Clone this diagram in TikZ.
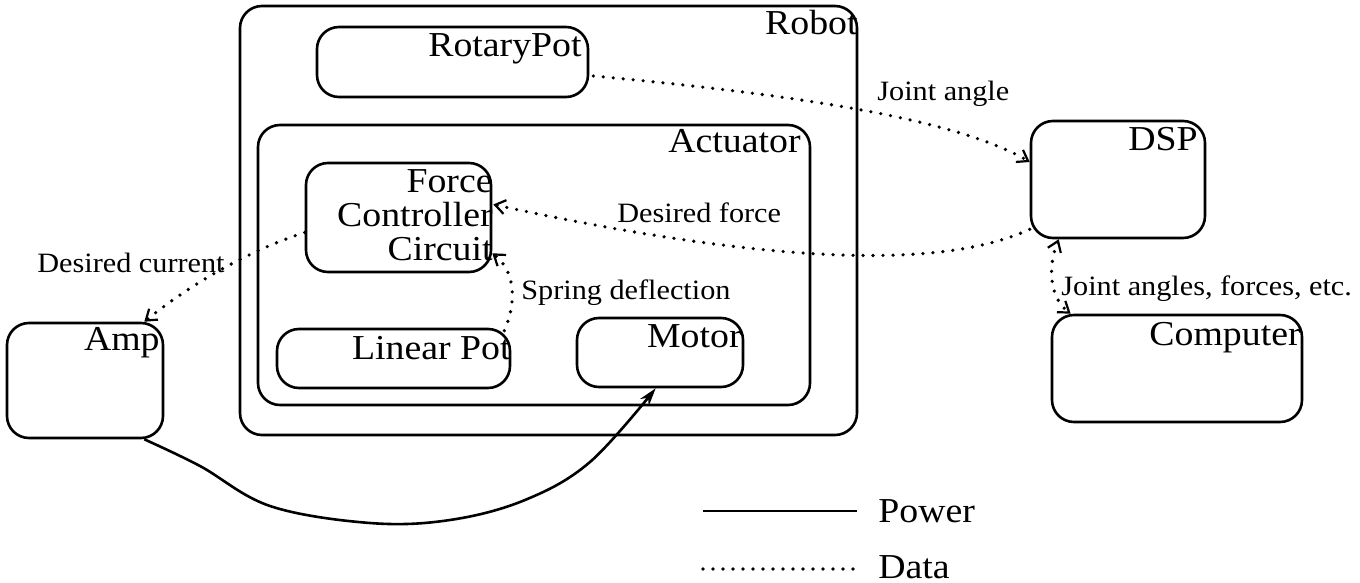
\documentclass[tikz,border=0pt]{standalone}
\usepackage{fontspec}
\setmainfont{Liberation Serif}[FakeStretch=1.08]
\usetikzlibrary{arrows.meta,fit,calc}
\tikzset{
  datatip/.tip={Straight Barb[length=5pt,width=7pt,line width=1.1pt]},
  powertip/.tip={Stealth[length=9pt,width=5.5pt]},
}

\begin{document}
\begin{tikzpicture}[x=0.5pt,y=-0.5pt,
  box/.style={draw, line width=1.3pt, rounded corners=11pt, inner sep=0pt},
  big/.style={font=\fontsize{17.5}{18}\selectfont, inner sep=0pt},
  small/.style={font=\fontsize{14}{15}\selectfont, inner sep=0pt},
  dataline/.style={line width=1.8pt, line cap=round, dash pattern=on 0pt off 5pt},
  powerline/.style={line width=1.3pt},
]
\useasboundingbox (0,0) rectangle (1360,583);

% boxes
\node[box, fit={(240,6)(857,435)}] (robot) {};
\node[box, fit={(317,27)(588,97)}] (rot) {};
\node[box, fit={(258,125)(810,405)}] (act) {};
\node[box, fit={(306,163)(491,272)}] (fcc) {};
\node[box, fit={(277,329)(510,388)}] (lin) {};
\node[box, fit={(577,318)(743,387)}] (mot) {};
\node[box, fit={(7,323)(163,438)}] (amp) {};
\node[box, fit={(1031,121)(1205,238)}] (dsp) {};
\node[box, fit={(1052,315)(1302,422)}] (comp) {};

% box titles, set flush right at the top of each box
\node[big, anchor=base east] (robotlbl) at (858,35) {Robot};
\node[big, anchor=base east] (rotlbl) at (582,57) {RotaryPot};
\node[big, anchor=base east] (actlbl) at (801,153) {Actuator};
\node[big, anchor=base east] (fcclbla) at (493,192) {Force};
\node[big, anchor=base east] (fcclblb) at (493,227) {Controller};
\node[big, anchor=base east] (fcclblc) at (493,260) {Circuit};
\node[big, anchor=base east] (linlbl) at (511,359) {Linear Pot};
\node[big, anchor=base east] (motlbl) at (742,347) {Motor};
\node[big, anchor=base east] (amplbl) at (160,350) {Amp};
\node[big, anchor=base east] (dsplbl) at (1198,150) {DSP};
\node[big, anchor=base east] (complbl) at (1301,345) {Computer};

% signal labels
\node[small, anchor=base west] (jalbl) at (877,101) {Joint angle};
\node[small, anchor=base west] (dflbl) at (617,222) {Desired force};
\node[small, anchor=base west] (sdlbl) at (521,299) {Spring deflection};
\node[small, anchor=base west] (dclbl) at (37,272) {Desired current};
\node[small, anchor=base west] (jafelbl) at (1061,295) {Joint angles, forces, etc.};

% data connections
\draw[dataline, -datatip] ($(rot.east)+(4,14)$)
  .. controls +(208,19) and +(-71,-42) .. ($(dsp.west)+(0,-17.5)$);
\draw[dataline, -datatip] ($(dsp.south west)+(0,-10)$)
  .. controls +(-91,42) and +(268,58) .. ($(fcc.east)+(1,-13)$);
\draw[dataline, -datatip] ($(fcc.west)+(0,15)$)
  .. controls +(-56,18) and +(47,-38) .. ($(amp.north east)+(-20,0)$);
\draw[dataline, -datatip] ($(lin.north east)+(-7,3)$)
  .. controls +(14,-32) and +(21,16) .. ($(fcc.south east)+(0,-20)$);
\draw[dataline, datatip-datatip] ($(dsp.south west)+(29,0)$)
  .. controls +(-12,30) and +(-20,-15) .. ($(comp.north west)+(20,0)$);

% power connection
\draw[powerline, -powertip] plot[smooth, tension=0.6] coordinates {
  ($(amp.south east)+(-20,0)$) (200,466) (270,506) (370,523)
  (450,520) (525,500) (590,462) ($(mot.south west)+(80,0)$)};

% legend
\coordinate (pwa) at (703,511);
\coordinate (pwb) at (857,511);
\coordinate (dta) at (703,569);
\coordinate (dtb) at (855,569);
\draw[powerline] (pwa) -- (pwb);
\draw[dataline] (dta) -- (dtb);
\node[big, anchor=base west] (pwlbl) at (878,522) {Power};
\node[big, anchor=base west] (dtlbl) at (878,578) {Data};
\end{tikzpicture}
\end{document}
